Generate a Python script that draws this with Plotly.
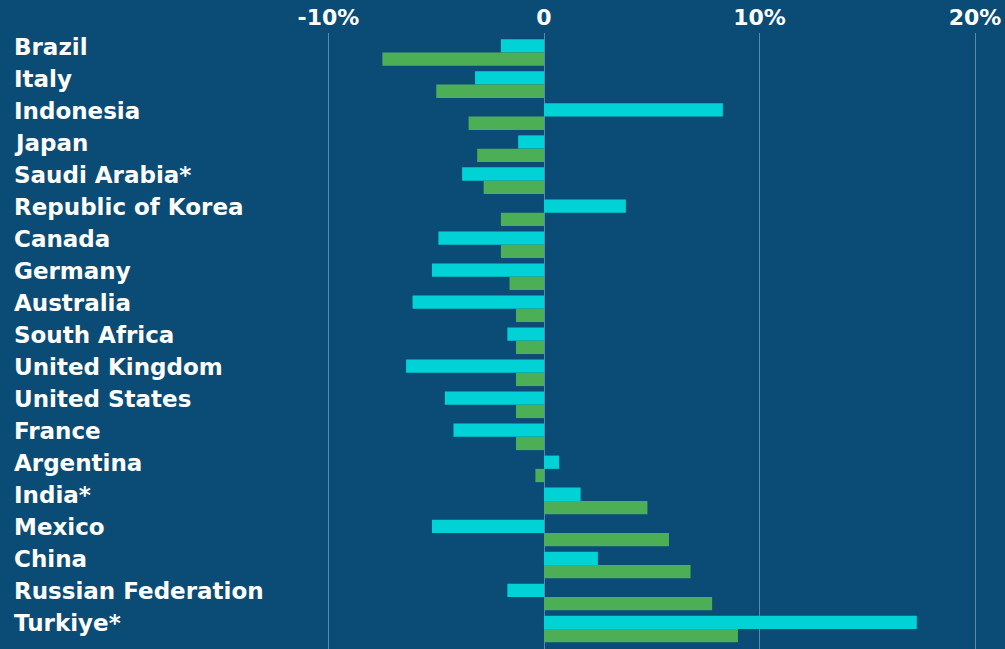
import plotly.graph_objects as go

countries = ["Brazil", "Italy", "Indonesia", "Japan", "Saudi Arabia*", "Republic of Korea",
             "Canada", "Germany", "Australia", "South Africa", "United Kingdom", "United States",
             "France", "Argentina", "India*", "Mexico", "China", "Russian Federation", "Turkiye*"]
series_a = [-2.0, -3.2, 8.3, -1.2, -3.8, 3.8, -4.9, -5.2, -6.1, -1.7, -6.4, -4.6, -4.2,
            0.7, 1.7, -5.2, 2.5, -1.7, 17.3]
series_b = [-7.5, -5.0, -3.5, -3.1, -2.8, -2.0, -2.0, -1.6, -1.3, -1.3, -1.3, -1.3, -1.3,
            -0.4, 4.8, 5.8, 6.8, 7.8, 9.0]
tick_vals = [-10, 0, 10, 20]
tick_text = ["-10%", "0", "10%", "20%"]

BG = "#0a4c75"
CYAN = "#00d2d6"
GREEN = "#4caf55"
GRID = "#5a87ad"
FONT = "DejaVu Sans"

fig = go.Figure()
fig.add_trace(go.Bar(y=countries, x=series_a, orientation="h", marker_color=CYAN,
                     marker_line_width=0, offset=-0.21, width=0.415, name="A"))
fig.add_trace(go.Bar(y=countries, x=series_b, orientation="h", marker_color=GREEN,
                     marker_line_width=0, offset=0.205, width=0.415, name="B"))

for c in countries:
    fig.add_annotation(x=12 / 1005, xref="paper", y=c, yref="y", text=c,
                       showarrow=False, xanchor="left", yanchor="middle", yshift=-1,
                       font=dict(size=23, color="white", family=FONT, weight=700))

slope = 21.55
zero_px = 544
fig.update_layout(
    width=1005, height=649,
    paper_bgcolor=BG, plot_bgcolor=BG,
    margin=dict(l=0, r=0, t=33, b=0, autoexpand=False),
    showlegend=False,
    barmode="overlay",
    font=dict(family=FONT, color="white"),
    xaxis=dict(side="top", range=[-zero_px / slope, (1005 - zero_px) / slope],
               tickvals=tick_vals, ticktext=tick_text, automargin=False,
               tickfont=dict(size=22, color="white", family=FONT, weight=700),
               showgrid=True, gridcolor=GRID, gridwidth=1,
               zeroline=True, zerolinecolor=GRID, zerolinewidth=1,
               showline=False, ticks="", ticklabelstandoff=3, fixedrange=True),
    yaxis=dict(type="category", range=[18.83, -0.406], showgrid=False,
               showticklabels=False, ticks="", automargin=False,
               showline=False, zeroline=False, fixedrange=True),
)

fig.write_html("out.html", config={"displayModeBar": False, "staticPlot": True},
               post_script="document.body.style.margin='0';document.body.style.background='%s';" % BG)
